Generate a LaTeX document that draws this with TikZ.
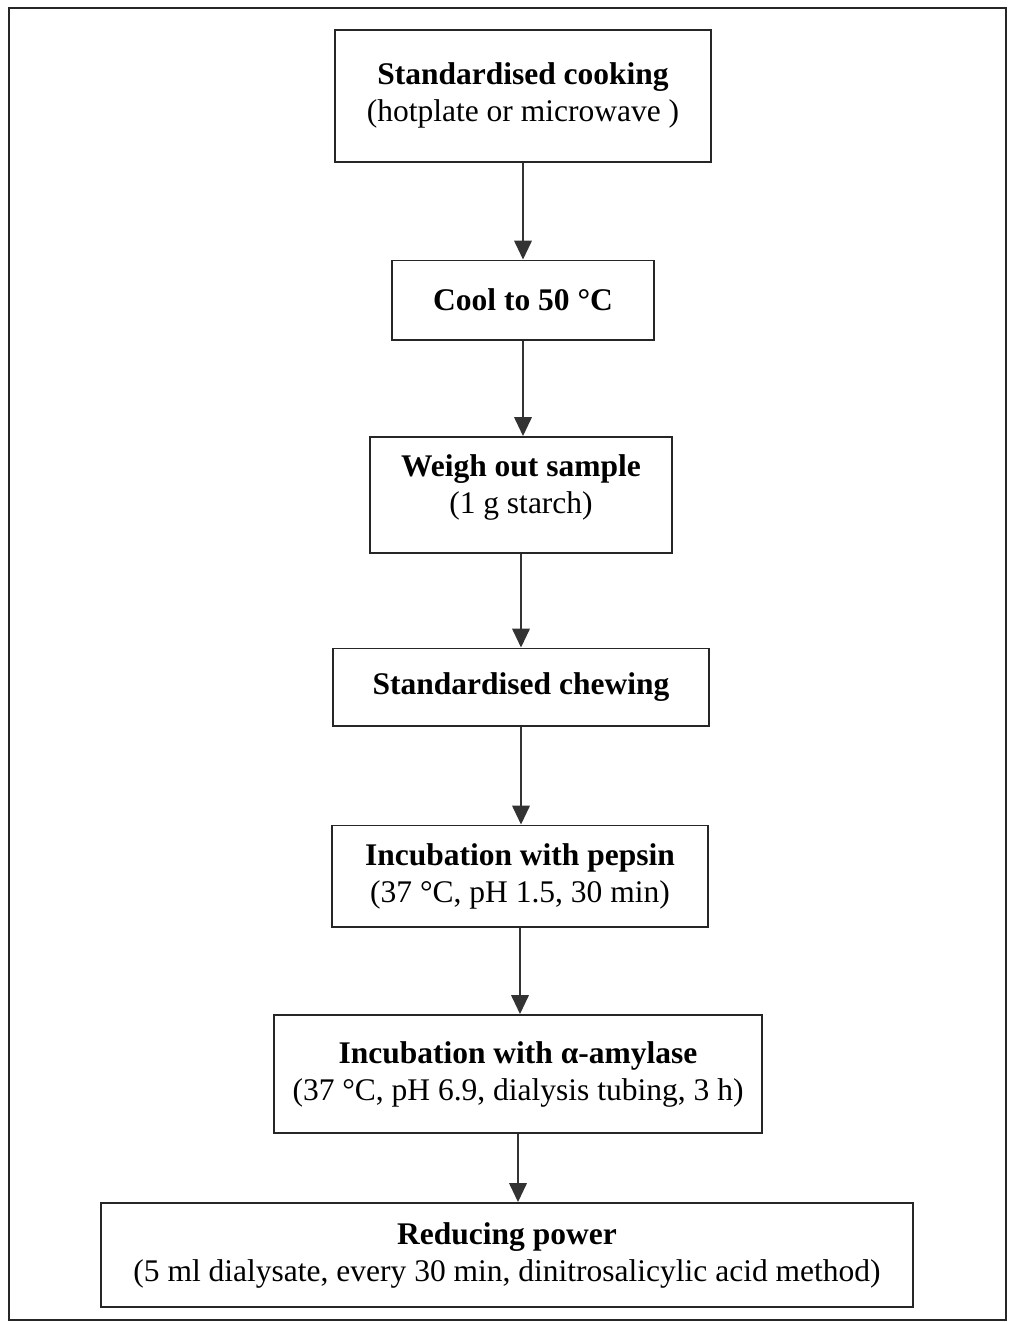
\documentclass[tikz,border=0pt]{standalone}
\usepackage{fontspec}
\setmainfont{Liberation Serif}
\usetikzlibrary{arrows.meta}

\begin{document}
\begin{tikzpicture}[x=0.025cm,y=-0.025cm,-]
                \tikzstyle{stage}=[rectangle,draw=black!85,line width=1.4pt,fill=white,align=center,inner sep=0pt,font=\fontsize{22.4}{26.3}\selectfont]
                \tikzstyle{flow}=[-{Triangle[length=0.47cm,width=0.44cm]},draw=black!80,line width=1pt]
                \useasboundingbox (0,0) rectangle (1008,1322);
                \draw[line width=1.2pt,black!85] (9,8) rectangle (1006,1320);

                \node[stage,minimum width=9.4cm,minimum height=3.3cm] (cook) at (523,96) {\textbf{Standardised cooking}\\(hotplate or microwave )\\[-0.72cm]};
                \node[stage,minimum width=6.55cm,minimum height=1.975cm] (cool) at (523,300) {\textbf{Cool to 50 °C}};
                \node[stage,minimum width=7.525cm,minimum height=2.9cm] (weigh) at (521,495) {\textbf{Weigh out sample}\\(1 g starch)\\[-0.4cm]};
                \node[stage,minimum width=9.4cm,minimum height=1.925cm] (chew) at (521,687) {\textbf{Standardised chewing}};
                \node[stage,minimum width=9.4cm,minimum height=2.525cm] (pepsin) at (520,876) {\textbf{Incubation with pepsin}\\(37 °C, pH 1.5, 30 min)};
                \node[stage,minimum width=12.2cm,minimum height=2.95cm] (amylase) at (518,1074) {\textbf{Incubation with α-amylase}\\(37 °C, pH 6.9, dialysis tubing, 3 h)};
                \node[stage,minimum width=20.3cm,minimum height=2.6cm] (reduce) at (507,1255) {\textbf{Reducing power}\\(5 ml dialysate, every 30 min, dinitrosalicylic acid method)};

                    \foreach \from/\to in {cook/cool, cool/weigh, weigh/chew, chew/pepsin, pepsin/amylase, amylase/reduce}
                        \draw[flow] (\from.south) -- (\from.south |- \to.north);

            \end{tikzpicture}
\end{document}
